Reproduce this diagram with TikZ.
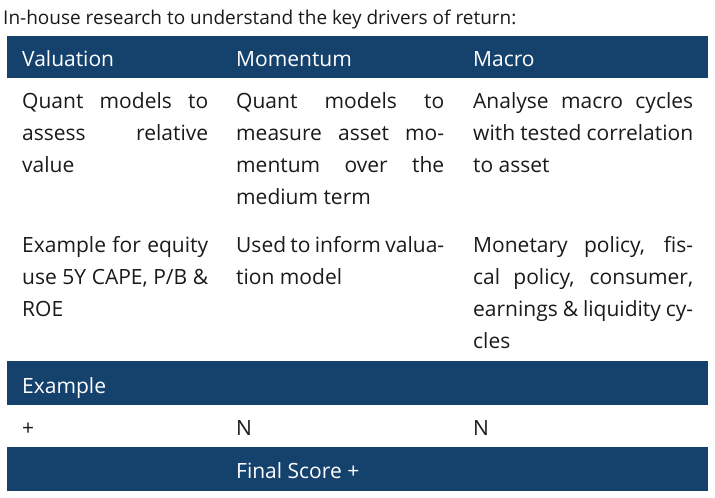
\documentclass[tikz,border=0pt]{standalone}
\usepackage{fontspec}
\setmainfont{Open Sans}
\definecolor{navy}{HTML}{15426D}
\definecolor{ink}{HTML}{1A1A1A}
\begin{document}
\begin{tikzpicture}[x=1pt,y=-1pt,
  bar/.style={fill=navy,draw=none},
  hd/.style={anchor=base west,inner sep=0,text=white,font=\fontsize{21}{32}\selectfont},
  cell/.style={anchor=base west,inner sep=0,text=ink,align=justify,font=\fontsize{21}{32}\selectfont},
  ]
\useasboundingbox (0,0) rectangle (715,498);
\node[anchor=base west,inner sep=0,text=ink,font=\fontsize{19}{24}\selectfont] (title) at (3,24) {In-house research to understand the key drivers of return:};
\fill[navy] (7,36) rectangle (708,78);
\fill[navy] (7,361) rectangle (708,405);
\fill[navy] (7,447) rectangle (708,491);
\node[hd] (h1) at (22,66) {Valuation};
\node[hd] (h2) at (236,66) {Momentum};
\node[hd] (h3) at (473,66) {Macro};
\node[cell,text width=186pt] (a1) at (22,108) {Quant models to assess relative value};
\node[cell,text width=208pt] (a2) at (236,108) {Quant models to measure asset momentum over the medium term};
\node[cell,text width=220pt] (a3) at (473,108) {Analyse macro cycles with tested correlation to asset};
\node[cell,text width=186pt] (b1) at (22,252) {Example for equity use 5Y CAPE, P/B \& ROE};
\node[cell,text width=208pt] (b2) at (236,252) {Used to inform valuation model};
\node[cell,text width=220pt] (b3) at (473,252) {Monetary policy, fiscal policy, consumer, earnings \& liquidity cycles};
\node[hd] (ex) at (22,393) {Example};
\node[cell] (c1) at (22,435) {+};
\node[cell] (c2) at (236,435) {N};
\node[cell] (c3) at (473,435) {N};
\node[hd] (fs) at (236,478) {Final Score +};
\end{tikzpicture}
\end{document}
